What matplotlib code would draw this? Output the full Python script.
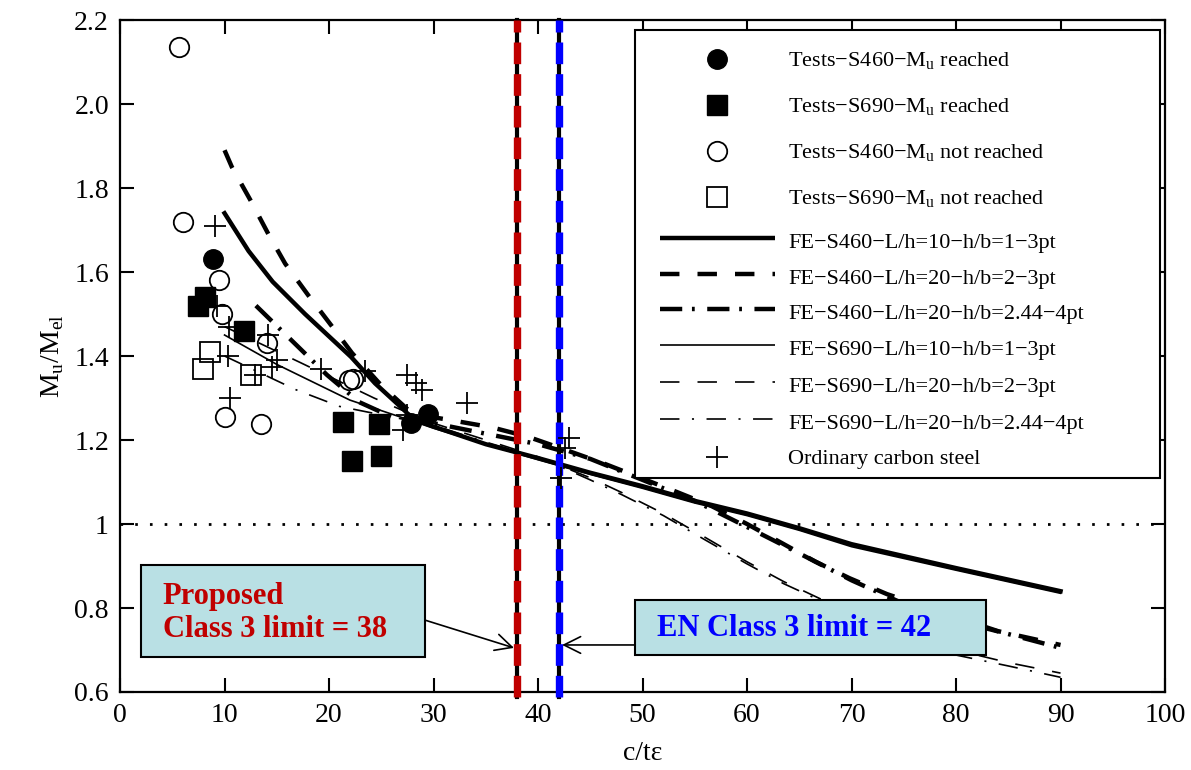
import numpy as np
import matplotlib.pyplot as plt
from matplotlib.patches import Rectangle

plt.rcParams['font.family'] = ['Liberation Serif', 'DejaVu Serif']
plt.rcParams['mathtext.fontset'] = 'custom'
plt.rcParams['mathtext.rm'] = 'Liberation Serif'
plt.rcParams['lines.scale_dashes'] = False

# test points (c/te, Mu/Mel)
s460_reached_x = [8.9, 27.8, 29.5]
s460_reached_y = [1.63, 1.24, 1.263]
s690_reached_x = [7.5, 8.1, 11.9, 21.3, 24.8, 22.2, 25.0]
s690_reached_y = [1.52, 1.54, 1.46, 1.243, 1.238, 1.15, 1.162]
s460_not_x = [5.6, 6.0, 9.5, 9.8, 14.1, 10.0, 13.5, 21.9, 22.3]
s460_not_y = [2.135, 1.72, 1.58, 1.50, 1.43, 1.255, 1.238, 1.343, 1.345]
s690_not_x = [8.6, 7.9, 12.5]
s690_not_y = [1.41, 1.37, 1.355]
carbon_x = [9.1, 9.3, 10.4, 10.3, 10.5, 14.2, 15.0, 14.5, 12.9, 19.2, 23.4,
            27.5, 28.3, 28.9, 27.1, 27.5, 33.2, 43.0, 42.6, 42.2]
carbon_y = [1.71, 1.52, 1.47, 1.40, 1.30, 1.45, 1.39, 1.375, 1.355, 1.37, 1.365,
            1.355, 1.335, 1.32, 1.225, 1.26, 1.287, 1.204, 1.18, 1.11]

# FE curves
fe1_x = [10, 12.3, 14.6, 17.7, 22.1, 24.4, 27.2, 28, 30, 35, 40, 45, 50, 55, 60, 65, 70, 80, 90]
fe1_y = [1.74, 1.65, 1.577, 1.50, 1.398, 1.335, 1.271, 1.25, 1.232, 1.19, 1.157, 1.122,
         1.09, 1.055, 1.025, 0.99, 0.952, 0.895, 0.84]
fe2_x = [10, 10.7, 12.5, 14.2, 15.8, 18, 20.3, 22.2, 25, 28, 31.5, 35.6, 39, 42, 46.2,
         49.6, 53.2, 56.5, 60, 63.3, 66.5, 69.8, 73.4, 80, 84, 90]
fe2_y = [1.89, 1.85, 1.77, 1.69, 1.62, 1.545, 1.47, 1.407, 1.33, 1.262, 1.248, 1.23,
         1.208, 1.182, 1.145, 1.112, 1.077, 1.044, 1.0, 0.955, 0.911, 0.871, 0.833,
         0.778, 0.745, 0.712]
fe3_x = [13, 16.3, 19.8, 22.9, 26, 28, 30, 35, 40, 45, 50, 55, 60, 65, 70, 75, 80, 85, 90]
fe3_y = [1.52, 1.44, 1.355, 1.29, 1.255, 1.245, 1.24, 1.215, 1.19, 1.155, 1.105, 1.055,
         0.993, 0.93, 0.866, 0.81, 0.77, 0.738, 0.705]
fe4_x = [10, 15, 22, 28, 30, 35, 40, 45, 50, 55, 60, 65, 70, 80, 90]
fe4_y = [1.45, 1.38, 1.295, 1.245, 1.228, 1.19, 1.153, 1.118, 1.085, 1.05, 1.02, 0.985,
         0.946, 0.89, 0.835]
fe5_x = [10, 17.2, 24.3, 28, 30, 35, 40, 42, 45, 48, 52, 56, 60, 63.5, 67, 70, 75, 80, 85, 90]
fe5_y = [1.47, 1.385, 1.30, 1.26, 1.24, 1.2, 1.16, 1.14, 1.11, 1.075, 1.025, 0.968,
         0.91, 0.863, 0.822, 0.79, 0.74, 0.70, 0.67, 0.645]
fe6_x = [10, 16.8, 21, 27, 30, 35, 40, 42, 45, 48, 52, 56, 60, 63.5, 67, 70, 75, 80, 85, 90]
fe6_y = [1.40, 1.32, 1.28, 1.25, 1.235, 1.195, 1.158, 1.138, 1.105, 1.07, 1.02, 0.962,
         0.905, 0.858, 0.818, 0.785, 0.733, 0.688, 0.662, 0.635]

class3_limits = [38, 42]
yticks = [0.6, 0.8, 1.0, 1.2, 1.4, 1.6, 1.8, 2.0, 2.2]
ytick_labels = ['0.6', '0.8', '1', '1.2', '1.4', '1.6', '1.8', '2.0', '2.2']

mu = r'M$_\mathregular{u}$'
labels = ['Tests−S460−' + mu + ' reached',
          'Tests−S690−' + mu + ' reached',
          'Tests−S460−' + mu + ' not reached',
          'Tests−S690−' + mu + ' not reached',
          'FE−S460−L/h=10−h/b=1−3pt',
          'FE−S460−L/h=20−h/b=2−3pt',
          'FE−S460−L/h=20−h/b=2.44−4pt',
          'FE−S690−L/h=10−h/b=1−3pt',
          'FE−S690−L/h=20−h/b=2−3pt',
          'FE−S690−L/h=20−h/b=2.44−4pt',
          'Ordinary carbon steel']

fig = plt.figure(figsize=(11.91, 7.70), dpi=100)
ax = fig.add_axes([0.1008, 0.1013, 0.8774, 0.8727])

# marker / line styles, same order as labels
styles = [
    dict(marker='o', ls='none', color='black', ms=14),
    dict(marker='s', ls='none', color='black', ms=14),
    dict(marker='o', ls='none', mfc='none', mec='black', mew=1.3, ms=14),
    dict(marker='s', ls='none', mfc='none', mec='black', mew=1.3, ms=14),
    dict(color='black', lw=3.2, ls='solid'),
    dict(color='black', lw=3.2, ls=(0, (14, 13))),
    dict(color='black', lw=3.2, ls=(0, (16, 7, 2, 9))),
    dict(color='black', lw=1.2, ls='solid'),
    dict(color='black', lw=1.2, ls=(0, (14, 13))),
    dict(color='black', lw=1.2, ls=(0, (14, 9, 1.5, 9))),
    dict(marker='+', ls='none', color='black', ms=16, mew=1.3),
]

series = [(s460_reached_x, s460_reached_y), (s690_reached_x, s690_reached_y),
          (s460_not_x, s460_not_y), (s690_not_x, s690_not_y),
          (fe1_x, fe1_y), (fe2_x, fe2_y), (fe3_x, fe3_y),
          (fe4_x, fe4_y), (fe5_x, fe5_y), (fe6_x, fe6_y),
          (carbon_x, carbon_y)]

for (xs, ys), st in zip(series, styles):
    z = 2 if st.get('ls', '') != 'none' else 4
    ax.plot(xs, ys, zorder=z, **st)

# Mu = Mel
ax.axhline(1.0, color='black', lw=2, ls=(0, (1.9, 8.7)), zorder=1)

# class 3 limits
for xv, col in zip(class3_limits, ['#c00000', '#0000ff']):
    ax.axvline(xv, ymin=-0.008, color='black', lw=3, zorder=3, clip_on=False)
    ax.axvline(xv, ymin=-0.008, color=col, lw=5.3, ls=(0, (15.6, 7.2)), zorder=3,
               clip_on=False)

# annotation boxes
ax.add_patch(Rectangle((2.0, 0.683), 27.2, 0.219, facecolor='#b9e0e4',
                       edgecolor='black', lw=1.5, zorder=5))
ax.text(4.1, 0.788, 'Proposed\nClass 3 limit = 38', color='#c00000', fontsize=22,
        fontweight='bold', ha='left', va='center', linespacing=1.2, zorder=6)
ax.annotate('', xy=(37.7, 0.705), xytext=(29.2, 0.771), zorder=6,
            arrowprops=dict(arrowstyle='->', lw=1.2, color='black',
                            mutation_scale=30, shrinkA=0, shrinkB=0))

ax.add_patch(Rectangle((49.3, 0.688), 33.6, 0.131, facecolor='#b9e0e4',
                       edgecolor='black', lw=1.5, zorder=5))
ax.text(51.4, 0.752, 'EN Class 3 limit = 42', color='#0000ff', fontsize=22,
        fontweight='bold', ha='left', va='center', zorder=6)
ax.annotate('', xy=(42.3, 0.712), xytext=(49.3, 0.712), zorder=6,
            arrowprops=dict(arrowstyle='->', lw=1.2, color='black',
                            mutation_scale=30, shrinkA=0, shrinkB=0))

# legend drawn by hand (row heights differ in the original)
ax.add_patch(Rectangle((0.4928, 0.3185), 0.5024, 0.6666, transform=ax.transAxes,
                       facecolor='white', edgecolor='black', lw=1.5, zorder=10))
row_px = [59, 105, 151, 197, 241, 277, 312, 348, 385, 422, 457]
for lab, st, py in zip(labels, styles, row_px):
    yc = (692 - py) / 672
    yb = (692 - py - 7) / 672
    if st.get('ls', '') == 'none':
        ax.plot([0.5713], [yc], transform=ax.transAxes, clip_on=False, zorder=11, **st)
    else:
        yl = (692 - py + 3) / 672
        ax.plot([0.5167, 0.6268], [yl, yl], transform=ax.transAxes, clip_on=False,
                zorder=11, solid_capstyle='butt', **st)
    ax.text(0.6392, yb, lab, transform=ax.transAxes, fontsize=16, ha='left',
            va='baseline', zorder=11)

ax.set_xlim(0, 100)
ax.set_ylim(0.6, 2.2)
ax.set_xticks(np.arange(0, 101, 10))
ax.set_yticks(yticks)
ax.set_yticklabels(ytick_labels)
ax.tick_params(direction='in', length=10, width=1.5, top=True, right=True,
               labelsize=20, pad=8)
for sp in ax.spines.values():
    sp.set_linewidth(1.6)

ax.set_xlabel('c/tε', fontsize=20, labelpad=9)
ax.set_ylabel(r'M$_\mathregular{u}$/M$_\mathregular{el}$', fontsize=20, labelpad=6)

fig.savefig('out.png', dpi=100)
